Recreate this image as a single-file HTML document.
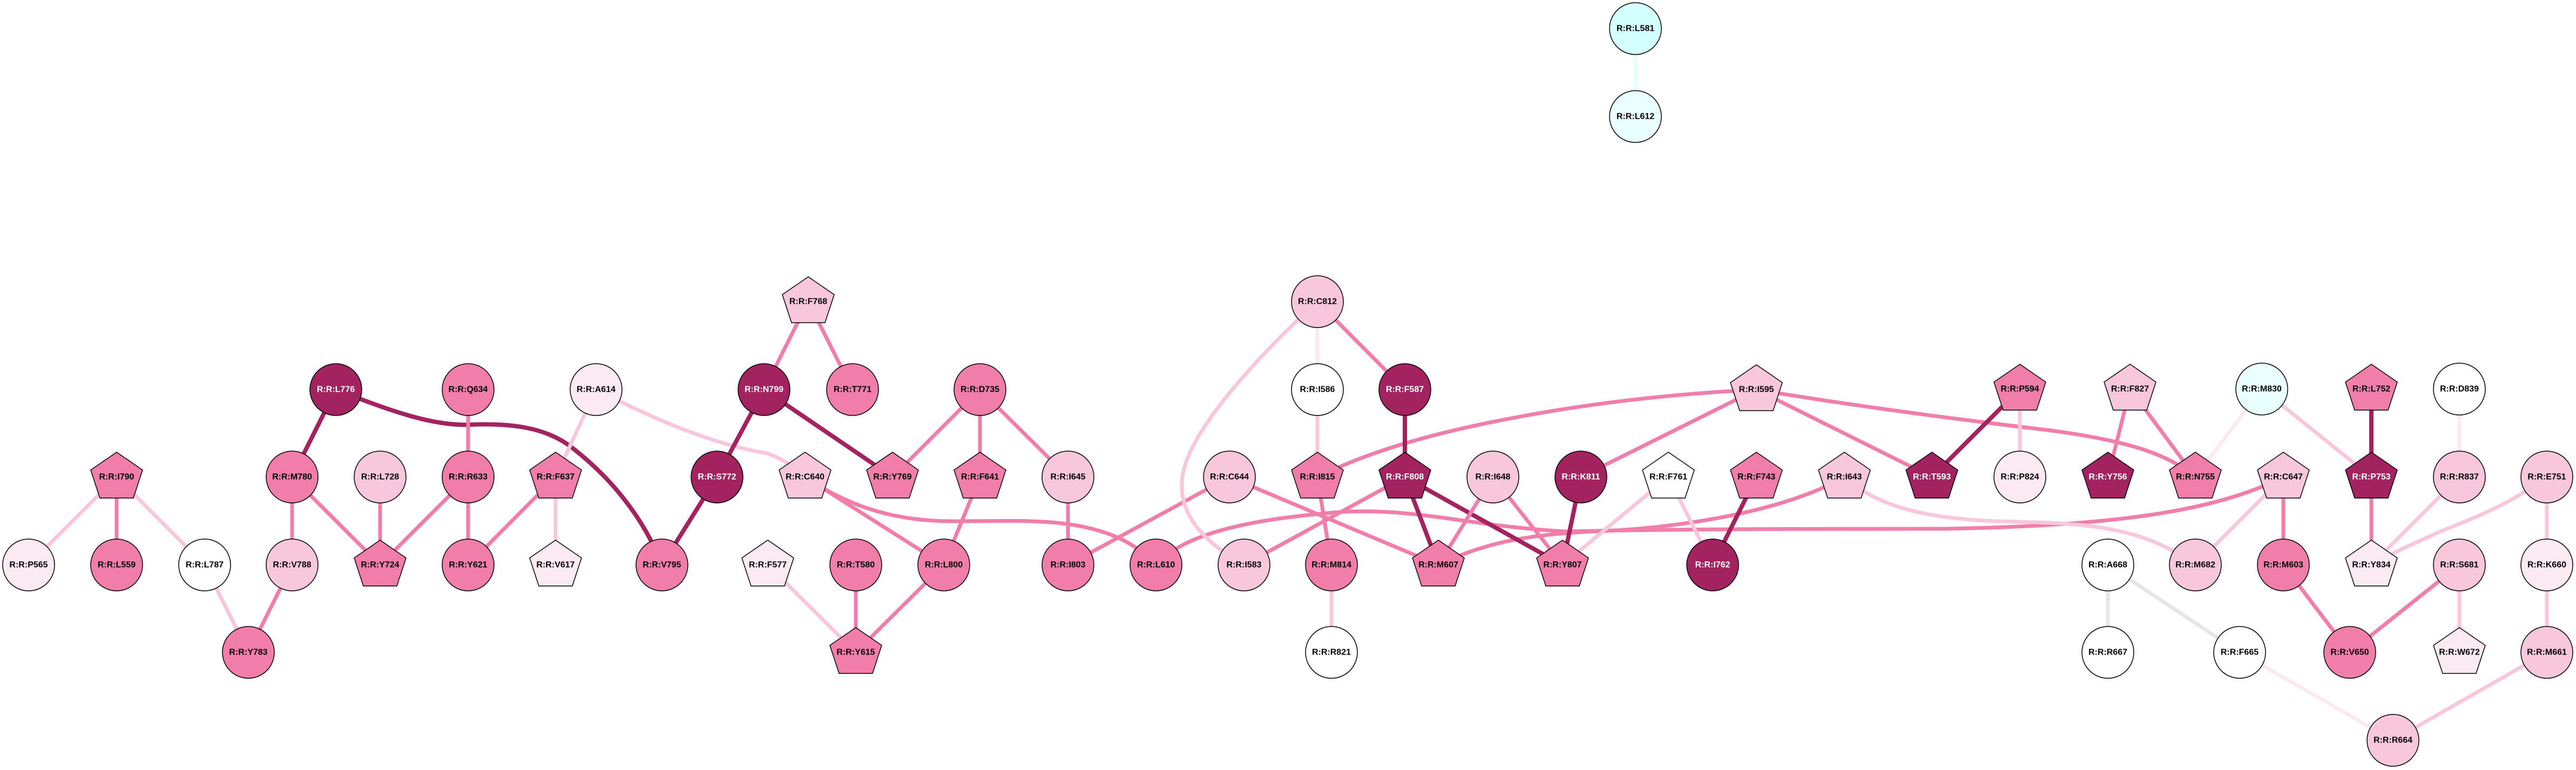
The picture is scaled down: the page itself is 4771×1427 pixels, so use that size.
<!DOCTYPE html>
<html><head><meta charset="utf-8"><style>
html,body{margin:0;padding:0;background:#fff}
svg{display:block}
text{font-family:"Liberation Sans",Arial,sans-serif;font-weight:bold;font-size:16px;text-anchor:middle;dominant-baseline:central}
.w{fill:#fff}
circle,polygon{stroke:#000;stroke-width:1.5}
line,path{fill:none;stroke-linecap:butt}
.eD{stroke:#a2235f;stroke-width:8}
.eM{stroke:#f07daa;stroke-width:7}
.eL{stroke:#f9c7dc;stroke-width:7}
.eV{stroke:#fbeaf2;stroke-width:7}
.eG{stroke:#e6e6e6;stroke-width:7}
.eC{stroke:#e6ffff;stroke-width:8}
.D{fill:#a2235f}.M{fill:#f07daa}.L{fill:#f9c7dc}.V{fill:#fbeaf2}.W{fill:#ffffff}.C1{fill:#d4ffff}.C2{fill:#eaffff}
</style></head><body>
<svg width="4771" height="1427" viewBox="0 0 4771 1427" xmlns="http://www.w3.org/2000/svg">
<defs><polygon id="pg" points="0,-46 48,-13 31,39 -31,39 -48,-13"/></defs>
<g>
<line class="eC" x1="3029" y1="53" x2="3029" y2="216"/>
<line class="eL" x1="216" y1="884" x2="53" y2="1047"/>
<line class="eM" x1="216" y1="884" x2="216" y2="1047"/>
<line class="eL" x1="216" y1="884" x2="379" y2="1047"/>
<line class="eL" x1="379" y1="1047" x2="460" y2="1209"/>
<line class="eM" x1="541" y1="1047" x2="460" y2="1209"/>
<line class="eD" x1="622" y1="722" x2="541" y2="884"/>
<path class="eD" d="M622,722 C720,760 800,790 870,787 C940,784 1010,790 1060,830 C1150,900 1200,980 1226,1047"/>
<line class="eM" x1="541" y1="884" x2="541" y2="1047"/>
<line class="eM" x1="541" y1="884" x2="704" y2="1047"/>
<line class="eM" x1="704" y1="884" x2="704" y2="1047"/>
<line class="eM" x1="867" y1="884" x2="704" y2="1047"/>
<line class="eM" x1="867" y1="722" x2="867" y2="884"/>
<line class="eM" x1="867" y1="884" x2="867" y2="1047"/>
<line class="eM" x1="1029" y1="884" x2="867" y2="1047"/>
<line class="eL" x1="1029" y1="884" x2="1029" y2="1047"/>
<line class="eL" x1="1104" y1="722" x2="1029" y2="884"/>
<path class="eL" d="M1104,722 C1180,760 1300,820 1420,840 C1450,850 1470,865 1491,884"/>
<line class="eM" x1="1497" y1="559" x2="1415" y2="722"/>
<line class="eM" x1="1497" y1="559" x2="1579" y2="722"/>
<line class="eD" x1="1415" y1="722" x2="1328" y2="884"/>
<line class="eD" x1="1415" y1="722" x2="1653" y2="884"/>
<line class="eD" x1="1328" y1="884" x2="1226" y2="1047"/>
<line class="eM" x1="1815" y1="722" x2="1653" y2="884"/>
<line class="eM" x1="1815" y1="722" x2="1815" y2="884"/>
<line class="eM" x1="1815" y1="722" x2="1978" y2="884"/>
<line class="eM" x1="1815" y1="884" x2="1748" y2="1047"/>
<line class="eM" x1="1978" y1="884" x2="1978" y2="1047"/>
<line class="eM" x1="1491" y1="884" x2="1748" y2="1047"/>
<path class="eM" d="M1491,884 C1560,930 1640,965 1760,966 C1880,966 1960,960 2040,985 C2090,1000 2120,1025 2141,1047"/>
<line class="eL" x1="1422" y1="1047" x2="1585" y2="1209"/>
<line class="eM" x1="1585" y1="1047" x2="1585" y2="1209"/>
<line class="eM" x1="1748" y1="1047" x2="1585" y2="1209"/>
<line class="eM" x1="2277" y1="884" x2="1978" y2="1047"/>
<line class="eM" x1="2277" y1="884" x2="2664" y2="1047"/>
<line class="eM" x1="2304" y1="1047" x2="2602" y2="884"/>
<line class="eM" x1="2440" y1="884" x2="2466" y2="1047"/>
<path class="eM" d="M2141,1047 C2200,980 2350,960 2480,949 C2620,940 2720,975 2900,985 C3100,980 3400,980 3600,980 C3900,975 4100,950 4229,884"/>
<path class="eM" d="M2664,1047 C2760,1000 2850,990 2950,985 C3100,980 3300,950 3416,884"/>
<path class="eL" d="M3416,884 C3470,930 3540,960 3700,966 C3850,970 3960,970 4066,1047"/>
<path class="eM" d="M3253,722 C3100,730 2950,746 2800,775 C2640,805 2530,840 2440,884"/>
<line class="eM" x1="3253" y1="722" x2="2928" y2="884"/>
<line class="eM" x1="3253" y1="722" x2="3578" y2="884"/>
<path class="eM" d="M3253,722 C3450,755 3650,780 3800,798 C3950,818 4020,845 4066,884"/>
<line class="eV" x1="2440" y1="559" x2="2440" y2="722"/>
<line class="eM" x1="2440" y1="559" x2="2602" y2="722"/>
<path class="eL" d="M2440,559 C2330,660 2200,800 2190,884 C2180,960 2240,1010 2304,1047"/>
<line class="eL" x1="2440" y1="722" x2="2440" y2="884"/>
<line class="eD" x1="2602" y1="722" x2="2602" y2="884"/>
<line class="eD" x1="2602" y1="884" x2="2664" y2="1047"/>
<line class="eD" x1="2602" y1="884" x2="2894" y2="1047"/>
<line class="eM" x1="2765" y1="884" x2="2664" y2="1047"/>
<line class="eM" x1="2765" y1="884" x2="2894" y2="1047"/>
<line class="eD" x1="2928" y1="884" x2="2894" y2="1047"/>
<line class="eL" x1="3090" y1="884" x2="2894" y2="1047"/>
<line class="eL" x1="3090" y1="884" x2="3172" y2="1047"/>
<line class="eD" x1="3253" y1="884" x2="3172" y2="1047"/>
<line class="eD" x1="3578" y1="884" x2="3741" y2="721"/>
<line class="eL" x1="3741" y1="721" x2="3741" y2="884"/>
<line class="eM" x1="3945" y1="721" x2="3904" y2="884"/>
<line class="eM" x1="3945" y1="721" x2="4066" y2="884"/>
<line class="eV" x1="4189" y1="721" x2="4066" y2="884"/>
<line class="eL" x1="4189" y1="721" x2="4392" y2="884"/>
<line class="eD" x1="4392" y1="721" x2="4392" y2="884"/>
<line class="eM" x1="4392" y1="884" x2="4392" y2="1047"/>
<line class="eV" x1="4555" y1="721" x2="4555" y2="884"/>
<line class="eL" x1="4555" y1="884" x2="4392" y2="1047"/>
<path class="eL" d="M4717,884 C4640,940 4580,960 4520,985 C4460,1012 4420,1030 4392,1047"/>
<line class="eL" x1="4717" y1="884" x2="4717" y2="1047"/>
<line class="eL" x1="4229" y1="884" x2="4066" y2="1047"/>
<line class="eM" x1="4229" y1="884" x2="4229" y2="1047"/>
<line class="eM" x1="4229" y1="1047" x2="4352" y2="1209"/>
<line class="eM" x1="4555" y1="1047" x2="4352" y2="1209"/>
<line class="eL" x1="4555" y1="1047" x2="4555" y2="1209"/>
<line class="eL" x1="4717" y1="1047" x2="4717" y2="1209"/>
<line class="eL" x1="4717" y1="1209" x2="4432" y2="1372"/>
<line class="eV" x1="4148" y1="1209" x2="4432" y2="1372"/>
<line class="eG" x1="3904" y1="1047" x2="3904" y2="1209"/>
<line class="eG" x1="3904" y1="1047" x2="4148" y2="1209"/>
<line class="eL" x1="2466" y1="1047" x2="2466" y2="1209"/>
</g>
<g>
<circle class="C1" cx="3029" cy="53" r="48"/><text x="3029" y="53">R:R:L581</text>
<circle class="C2" cx="3029" cy="216" r="48"/><text x="3029" y="216">R:R:L612</text>
<circle class="V" cx="53" cy="1047" r="48"/><text x="53" y="1047">R:R:P565</text>
<circle class="M" cx="216" cy="1047" r="48"/><text x="216" y="1047">R:R:L559</text>
<circle class="W" cx="379" cy="1047" r="48"/><text x="379" y="1047">R:R:L787</text>
<circle class="L" cx="541" cy="1047" r="48"/><text x="541" y="1047">R:R:V788</text>
<circle class="M" cx="867" cy="1047" r="48"/><text x="867" y="1047">R:R:Y621</text>
<circle class="M" cx="1226" cy="1047" r="48"/><text x="1226" y="1047">R:R:V795</text>
<circle class="M" cx="460" cy="1209" r="48"/><text x="460" y="1209">R:R:Y783</text>
<circle class="D" cx="622" cy="722" r="48"/><text class="w" x="622" y="722">R:R:L776</text>
<circle class="M" cx="867" cy="722" r="48"/><text x="867" y="722">R:R:Q634</text>
<circle class="V" cx="1104" cy="722" r="48"/><text x="1104" y="722">R:R:A614</text>
<circle class="M" cx="541" cy="884" r="48"/><text x="541" y="884">R:R:M780</text>
<circle class="L" cx="704" cy="884" r="48"/><text x="704" y="884">R:R:L728</text>
<circle class="M" cx="867" cy="884" r="48"/><text x="867" y="884">R:R:R633</text>
<circle class="D" cx="1415" cy="722" r="48"/><text class="w" x="1415" y="722">R:R:N799</text>
<circle class="M" cx="1579" cy="722" r="48"/><text x="1579" y="722">R:R:T771</text>
<circle class="M" cx="1815" cy="722" r="48"/><text x="1815" y="722">R:R:D735</text>
<circle class="D" cx="1328" cy="884" r="48"/><text class="w" x="1328" y="884">R:R:S772</text>
<circle class="L" cx="1978" cy="884" r="48"/><text x="1978" y="884">R:R:I645</text>
<circle class="L" cx="2277" cy="884" r="48"/><text x="2277" y="884">R:R:C644</text>
<circle class="M" cx="1585" cy="1047" r="48"/><text x="1585" y="1047">R:R:T580</text>
<circle class="M" cx="1748" cy="1047" r="48"/><text x="1748" y="1047">R:R:L800</text>
<circle class="M" cx="1978" cy="1047" r="48"/><text x="1978" y="1047">R:R:I803</text>
<circle class="M" cx="2141" cy="1047" r="48"/><text x="2141" y="1047">R:R:L610</text>
<circle class="L" cx="2304" cy="1047" r="48"/><text x="2304" y="1047">R:R:I583</text>
<circle class="L" cx="2440" cy="559" r="48"/><text x="2440" y="559">R:R:C812</text>
<circle class="W" cx="2440" cy="722" r="48"/><text x="2440" y="722">R:R:I586</text>
<circle class="D" cx="2602" cy="722" r="48"/><text class="w" x="2602" y="722">R:R:F587</text>
<circle class="L" cx="2765" cy="884" r="48"/><text x="2765" y="884">R:R:I648</text>
<circle class="D" cx="2928" cy="884" r="48"/><text class="w" x="2928" y="884">R:R:K811</text>
<circle class="M" cx="2466" cy="1047" r="48"/><text x="2466" y="1047">R:R:M814</text>
<circle class="D" cx="3172" cy="1047" r="48"/><text class="w" x="3172" y="1047">R:R:I762</text>
<circle class="W" cx="2466" cy="1209" r="48"/><text x="2466" y="1209">R:R:R821</text>
<circle class="C2" cx="4189" cy="721" r="48"/><text x="4189" y="721">R:R:M830</text>
<circle class="W" cx="4555" cy="721" r="48"/><text x="4555" y="721">R:R:D839</text>
<circle class="V" cx="3741" cy="884" r="48"/><text x="3741" y="884">R:R:P824</text>
<circle class="L" cx="4555" cy="884" r="48"/><text x="4555" y="884">R:R:R837</text>
<circle class="L" cx="4717" cy="884" r="48"/><text x="4717" y="884">R:R:E751</text>
<circle class="W" cx="3904" cy="1047" r="48"/><text x="3904" y="1047">R:R:A668</text>
<circle class="L" cx="4066" cy="1047" r="48"/><text x="4066" y="1047">R:R:M682</text>
<circle class="M" cx="4229" cy="1047" r="48"/><text x="4229" y="1047">R:R:M603</text>
<circle class="L" cx="4555" cy="1047" r="48"/><text x="4555" y="1047">R:R:S681</text>
<circle class="V" cx="4717" cy="1047" r="48"/><text x="4717" y="1047">R:R:K660</text>
<circle class="W" cx="3904" cy="1209" r="48"/><text x="3904" y="1209">R:R:R667</text>
<circle class="W" cx="4148" cy="1209" r="48"/><text x="4148" y="1209">R:R:F665</text>
<circle class="M" cx="4352" cy="1209" r="48"/><text x="4352" y="1209">R:R:V650</text>
<circle class="L" cx="4717" cy="1209" r="48"/><text x="4717" y="1209">R:R:M661</text>
<circle class="L" cx="4432" cy="1372" r="48"/><text x="4432" y="1372">R:R:R664</text>

<use href="#pg" class="M" x="216" y="884"/><text x="216" y="884">R:R:I790</text>
<use href="#pg" class="M" x="704" y="1047"/><text x="704" y="1047">R:R:Y724</text>
<use href="#pg" class="V" x="1029" y="1047"/><text x="1029" y="1047">R:R:V617</text>
<use href="#pg" class="M" x="1029" y="884"/><text x="1029" y="884">R:R:F637</text>
<use href="#pg" class="L" x="1497" y="559"/><text x="1497" y="559">R:R:F768</text>
<use href="#pg" class="L" x="1491" y="884"/><text x="1491" y="884">R:R:C640</text>
<use href="#pg" class="M" x="1653" y="884"/><text x="1653" y="884">R:R:Y769</text>
<use href="#pg" class="M" x="1815" y="884"/><text x="1815" y="884">R:R:F641</text>
<use href="#pg" class="V" x="1422" y="1047"/><text x="1422" y="1047">R:R:F577</text>
<use href="#pg" class="M" x="1585" y="1209"/><text x="1585" y="1209">R:R:Y615</text>
<use href="#pg" class="L" x="3253" y="722"/><text x="3253" y="722">R:R:I595</text>
<use href="#pg" class="M" x="2440" y="884"/><text x="2440" y="884">R:R:I815</text>
<use href="#pg" class="D" x="2602" y="884"/><text class="w" x="2602" y="884">R:R:F808</text>
<use href="#pg" class="W" x="3090" y="884"/><text x="3090" y="884">R:R:F761</text>
<use href="#pg" class="M" x="3253" y="884"/><text x="3253" y="884">R:R:F743</text>
<use href="#pg" class="L" x="3416" y="884"/><text x="3416" y="884">R:R:I643</text>
<use href="#pg" class="D" x="3578" y="884"/><text class="w" x="3578" y="884">R:R:T593</text>
<use href="#pg" class="M" x="2664" y="1047"/><text x="2664" y="1047">R:R:M607</text>
<use href="#pg" class="M" x="2894" y="1047"/><text x="2894" y="1047">R:R:Y807</text>
<use href="#pg" class="M" x="3741" y="721"/><text x="3741" y="721">R:R:P594</text>
<use href="#pg" class="L" x="3945" y="721"/><text x="3945" y="721">R:R:F827</text>
<use href="#pg" class="M" x="4392" y="721"/><text x="4392" y="721">R:R:L752</text>
<use href="#pg" class="D" x="3904" y="884"/><text class="w" x="3904" y="884">R:R:Y756</text>
<use href="#pg" class="M" x="4066" y="884"/><text x="4066" y="884">R:R:N755</text>
<use href="#pg" class="L" x="4229" y="884"/><text x="4229" y="884">R:R:C647</text>
<use href="#pg" class="D" x="4392" y="884"/><text class="w" x="4392" y="884">R:R:P753</text>
<use href="#pg" class="V" x="4392" y="1047"/><text x="4392" y="1047">R:R:Y834</text>
<use href="#pg" class="V" x="4555" y="1209"/><text x="4555" y="1209">R:R:W672</text>
</g>
</svg>
</body></html>
